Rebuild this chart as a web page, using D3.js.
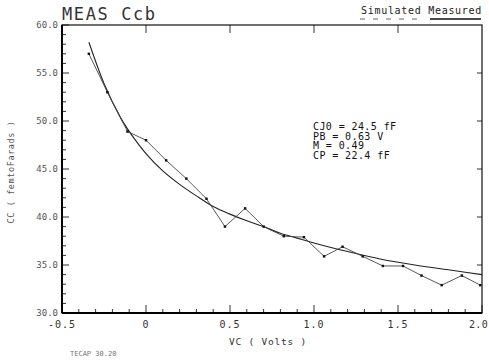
<!DOCTYPE html>
<html>
<head>
<meta charset="utf-8">
<script src="https://cdn.jsdelivr.net/npm/d3@7"></script>
<style>
  body { margin: 0; background: #fff; }
  text { font-family: "DejaVu Sans Mono", "Liberation Mono", monospace; }
</style>
</head>
<body>
<div id="chart"></div>
<script>
// Measured CC vs VC
const measVc = [-0.34, -0.23, -0.11, 0.0, 0.12, 0.24, 0.36, 0.47, 0.59, 0.70, 0.82,
                0.94, 1.06, 1.17, 1.29, 1.41, 1.53, 1.64, 1.76, 1.88, 1.99];
const measCc = [57.0, 53.0, 48.9, 48.0, 45.9, 44.0, 41.9, 39.0, 40.9, 39.0, 38.0,
                37.9, 35.9, 36.9, 35.9, 34.9, 34.9, 33.9, 32.9, 33.9, 32.9];

// Simulated curve
const simVc = [-0.34, -0.25, -0.15, -0.05, 0.0, 0.1, 0.2, 0.3, 0.4, 0.5, 0.6, 0.7,
               0.8, 0.9, 1.0, 1.2, 1.4, 1.6, 1.8, 2.0];
const simCc = [58.2, 53.9, 50.3, 47.7, 46.6, 44.8, 43.4, 42.2, 41.1, 40.3, 39.6, 39.0,
               38.3, 37.8, 37.3, 36.4, 35.6, 35.0, 34.5, 34.0];

const xTicks = [-0.5, 0, 0.5, 1.0, 1.5, 2.0];
const xTickLabels = ["-0.5", "0", "0.5", "1.0", "1.5", "2.0"];
const yTicks = [30, 35, 40, 45, 50, 55, 60];
const paramLines = ["CJ0 = 24.5 fF", "PB = 0.63 V", "M = 0.49", "CP = 22.4 fF"];

const width = 489, height = 360;
const pLeft = 62, pRight = 482, pTop = 25, pBottom = 313;

const svg = d3.select('#chart')
    .append('svg')
    .attr('width', width)
    .attr('height', height);

const x = d3.scaleLinear().domain([-0.5, 2.0]).range([pLeft, pRight]);
const y = d3.scaleLinear().domain([30, 60]).range([pBottom, pTop]);

// minor ticks
const xMinor = d3.range(-5, 21).map(i => i / 10);
const yMinor = d3.range(30, 61);

const ticks = svg.append('g').attr('stroke', '#333').attr('stroke-width', 1);

// bottom (inward)
ticks.selectAll('.bx').data(xMinor).join('line')
    .attr('x1', d => x(d)).attr('x2', d => x(d))
    .attr('y1', pBottom).attr('y2', d => pBottom - (Math.abs(d * 2 - Math.round(d * 2)) < 1e-6 ? 8 : 4));
// top (inward)
ticks.selectAll('.tx').data(xTicks.slice(1, -1)).join('line')
    .attr('x1', d => x(d)).attr('x2', d => x(d))
    .attr('y1', pTop).attr('y2', pTop + 8);
// left (inward)
ticks.selectAll('.ly').data(yMinor).join('line')
    .attr('x1', pLeft).attr('x2', d => pLeft + (d % 5 === 0 ? 7 : 4))
    .attr('y1', d => y(d)).attr('y2', d => y(d));
// right (inward)
ticks.selectAll('.ry').data(yTicks.slice(1, -1)).join('line')
    .attr('x1', pRight).attr('x2', pRight - 5)
    .attr('y1', d => y(d)).attr('y2', d => y(d));

// frame
svg.append('rect')
    .attr('x', pLeft).attr('y', pTop)
    .attr('width', pRight - pLeft).attr('height', pBottom - pTop)
    .attr('fill', 'none').attr('stroke', '#111').attr('stroke-width', 1.2);
svg.append('line').attr('x1', pLeft).attr('x2', pLeft).attr('y1', pTop).attr('y2', pBottom)
    .attr('stroke', '#000').attr('stroke-width', 2);
svg.append('line').attr('x1', pLeft).attr('x2', pRight).attr('y1', pBottom).attr('y2', pBottom)
    .attr('stroke', '#000').attr('stroke-width', 2);

// tick labels
svg.append('g').selectAll('text').data(yTicks).join('text')
    .attr('x', pLeft - 4).attr('y', d => y(d) + 3)
    .attr('text-anchor', 'end')
    .style('font-size', '9px').style('fill', '#555')
    .text(d => d.toFixed(1));

svg.append('g').selectAll('text').data(xTicks).join('text')
    .attr('x', (d, i) => i === xTicks.length - 1 ? x(d) + 6 : x(d))
    .attr('y', 328)
    .attr('text-anchor', (d, i) => i === xTicks.length - 1 ? 'end' : 'middle')
    .style('font-size', '10px').style('fill', '#333')
    .style('letter-spacing', (d, i) => i === xTicks.length - 1 ? '0.3px' : '1px')
    .text((d, i) => xTickLabels[i]);

// axis titles
svg.append('text')
    .attr('x', 268).attr('y', 345)
    .attr('text-anchor', 'middle')
    .style('font-size', '9.5px').style('fill', '#333')
    .style('letter-spacing', '0.8px')
    .text('VC  ( Volts )');

svg.append('text')
    .attr('transform', `translate(14,${(pTop + pBottom) / 2 + 3}) rotate(-90)`)
    .attr('text-anchor', 'middle')
    .style('font-size', '8.5px').style('fill', '#555')
    .style('letter-spacing', '0.6px')
    .text('CC  ( femtoFarads )');

svg.append('text')
    .attr('x', 70).attr('y', 356)
    .style('font-size', '7px').style('fill', '#777')
    .text('TECAP 30.20');

// title
svg.append('text')
    .attr('x', 62).attr('y', 20)
    .style('font-size', '17px').style('fill', '#333')
    .style('letter-spacing', '1.6px')
    .text('MEAS Ccb');

// legend
svg.append('text')
    .attr('x', 482).attr('y', 14)
    .attr('text-anchor', 'end')
    .style('font-size', '10px').style('fill', '#222')
    .style('letter-spacing', '0.7px')
    .text('Simulated Measured');
svg.append('line')
    .attr('x1', 360).attr('x2', 418).attr('y1', 19).attr('y2', 19)
    .attr('stroke', '#666').attr('stroke-width', 1).attr('stroke-dasharray', '5,8');
svg.append('line')
    .attr('x1', 430).attr('x2', 481).attr('y1', 19).attr('y2', 19)
    .attr('stroke', '#111').attr('stroke-width', 1.6);

// parameter annotation
svg.append('g').selectAll('text').data(paramLines).join('text')
    .attr('x', 313).attr('y', (d, i) => 130 + i * 9.5)
    .style('font-size', '10px').style('fill', '#111')
    .style('letter-spacing', '0.4px')
    .text(d => d);

// simulated curve
const simData = simVc.map((v, i) => ({ v, c: simCc[i] }));
svg.append('path')
    .datum(simData)
    .attr('fill', 'none')
    .attr('stroke', '#222')
    .attr('stroke-width', 1.1)
    .attr('d', d3.line().x(d => x(d.v)).y(d => y(d.c)).curve(d3.curveMonotoneX));

// measured
const measData = measVc.map((v, i) => ({ v, c: measCc[i] }));
svg.append('path')
    .datum(measData)
    .attr('fill', 'none')
    .attr('stroke', '#444')
    .attr('stroke-width', 0.9)
    .attr('d', d3.line().x(d => x(d.v)).y(d => y(d.c)));

svg.append('g').selectAll('path').data(measData).join('path')
    .attr('transform', d => `translate(${x(d.v)},${y(d.c)})`)
    .attr('d', d3.symbol().type(d3.symbolSquare).size(6))
    .attr('fill', '#111');
</script>
</body>
</html>
